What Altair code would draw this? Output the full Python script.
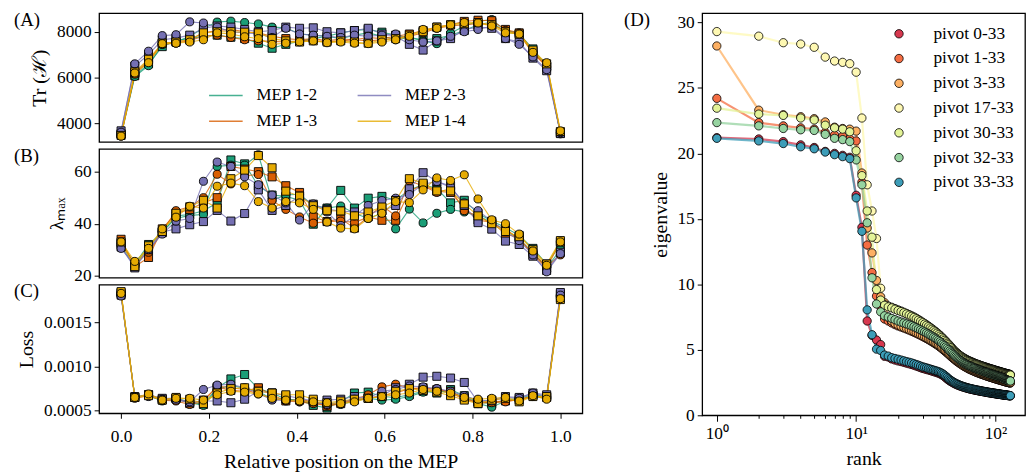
import altair as alt
import pandas as pd

FONT = "Liberation Serif"

# ---------------- panels A-C : four MEPs, two runs each ----------------
positions = [i / 32 for i in range(33)]
legend_order = ["MEP 1-2", "MEP 1-3", "MEP 2-3", "MEP 1-4"]
legend_colors = ["#1b9e77", "#d95f02", "#7570b3", "#e6ab02"]

# (A) Tr(H)
tr_12_sq = [3560, 6080, 6600, 7350, 7620, 7700, 7800, 7850, 7760, 7700, 7500, 7280, 7450, 7580, 7700, 7800, 7950,
            8050, 8100, 7980, 7850, 7750, 7650, 7700, 7850, 8050, 8300, 8420, 7980, 7900, 7250, 6500, 3580]
tr_12_ci = [3470, 6050, 6520, 7450, 7550, 7800, 8150, 8420, 8460, 8400, 8340, 8200, 8170, 7900, 7850, 7800, 7700,
            7850, 7950, 7800, 7650, 7750, 7600, 7480, 7930, 8250, 8450, 8530, 8050, 7950, 7100, 6600, 3550]
tr_13_sq = [3520, 6200, 6750, 7500, 7550, 7650, 7950, 8050, 8100, 8000, 7950, 7800, 7700, 7650, 7700, 7600, 7680,
            7650, 7750, 7700, 7800, 7900, 8050, 8200, 8300, 8450, 8500, 8480, 8100, 7950, 7150, 6450, 3600]
tr_13_ci = [3450, 6150, 6700, 7450, 7500, 7620, 7800, 7850, 7750, 7650, 7600, 7580, 7550, 7600, 7620, 7550, 7600,
            7650, 7600, 7650, 7700, 7800, 7950, 8150, 8250, 8300, 8350, 8300, 8050, 7900, 7050, 6500, 3620]
tr_23_sq = [3680, 6500, 7000, 7650, 7720, 7850, 8150, 8250, 8200, 8100, 8000, 8050, 8200, 8150, 8170, 8000, 7950,
            8050, 8150, 7900, 7800, 7450, 7200, 7600, 7700, 8100, 8200, 8150, 7700, 7550, 6850, 6300, 3560]
tr_23_ci = [3620, 6600, 7150, 7830, 7870, 8430, 8380, 8200, 8000, 7950, 7900, 7750, 8150, 7900, 7850, 7800, 7750,
            7850, 7800, 7850, 7900, 7650, 7550, 7600, 7800, 8000, 8100, 8250, 7700, 7450, 6900, 6350, 3600]
tr_14_sq = [3480, 6250, 6800, 7500, 7550, 7650, 7950, 8000, 8000, 7980, 7950, 7700, 7600, 7550, 7600, 7550, 7600,
            7550, 7500, 7650, 7700, 7850, 8000, 8200, 8300, 8350, 8400, 8300, 8000, 7900, 7200, 6600, 3650]
tr_14_ci = [3450, 6200, 6650, 7480, 7500, 7550, 7650, 7950, 7900, 7780, 7700, 7450, 7500, 7560, 7600, 7520, 7550,
            7500, 7480, 7550, 7650, 7800, 8100, 8150, 8300, 8400, 8380, 8250, 7950, 7900, 7100, 6650, 3680]

# (B) lambda_max
lam_12_sq = [32.5, 24.5, 32, 36.5, 43, 43.5, 45, 48, 64.5, 63, 54.5, 51, 50.5, 49, 39.8, 46, 52.8,
             46, 49.8, 50.5, 49, 53, 55, 53.5, 48, 49, 44, 41, 38.5, 35.5, 30.5, 24.5, 32]
lam_12_ci = [31, 24, 31, 37, 42, 43.2, 43.5, 62, 62.5, 62.5, 66.5, 49, 51, 51.3, 47, 46, 46.8,
             44, 42, 44, 38, 45.6, 40.3, 44, 45.5, 44.5, 43, 40.5, 37.5, 34, 29, 23, 30]
lam_13_sq = [34, 23.5, 27, 38, 44, 45.5, 48, 50, 62, 61, 60, 58, 54.6, 52, 42.6, 40.8, 42,
             38.3, 42.6, 41.3, 41.3, 52.5, 55, 52.5, 52, 46, 41.4, 40.5, 36, 34.5, 28, 23, 33]
lam_13_ci = [32, 24.5, 29, 37, 45, 46.5, 50, 59, 55.3, 58.4, 58.9, 48.9, 45.5, 42.6, 40.2, 40.8, 41,
             40.5, 42.5, 47, 43, 56.5, 54.5, 52, 53.5, 45, 43, 40, 38, 34, 28.5, 23.5, 28]
lam_23_sq = [31, 23, 30, 36.8, 38, 39.6, 40.8, 45.1, 41, 43.9, 53, 45.1, 47, 50.6, 47.5, 45.5, 44.9,
             44.5, 44, 45, 47, 53.4, 59.6, 56.2, 54.5, 47, 40.4, 37.9, 33.3, 32, 27.5, 22, 29]
lam_23_ci = [30.5, 24, 30, 36, 41, 42, 56.3, 63.7, 62, 58, 55, 51, 48, 41.4, 47.6, 44.5, 39.3,
             43, 47, 48.9, 49.8, 51.2, 55.2, 56.2, 54, 48, 45, 41, 37, 33.5, 28, 21.5, 28.5]
lam_14_sq = [33, 23.5, 31.5, 37, 44, 46.5, 49, 46, 57.3, 60.6, 66.2, 61.5, 52.5, 50.6, 46.9, 45, 44.9,
             43, 44.5, 46.4, 48.9, 57.3, 55.6, 52.6, 52.6, 47.6, 43, 40, 37, 35, 30, 24.5, 33.5]
lam_14_ci = [33, 25.5, 30.5, 38, 42.5, 46.7, 46, 54.4, 55.6, 54.6, 48.5, 46, 48.5, 48, 45.5, 40.6, 38.3,
             38, 42, 44, 48.5, 48.1, 53, 57.6, 56.6, 58.8, 49.5, 41.5, 40, 36, 29.5, 24, 33]

# (C) Loss
loss_12_sq = [0.00183, 0.00065, 0.00068, 0.00062, 0.00064, 0.00060, 0.00057, 0.00076, 0.00086, 0.00091, 0.00075,
              0.00070, 0.00063, 0.00062, 0.00056, 0.00053, 0.00060, 0.00070, 0.00071, 0.00066, 0.00065, 0.00068,
              0.00072, 0.00070, 0.00074, 0.00067, 0.00060, 0.00058, 0.00062, 0.00064, 0.00068, 0.00066, 0.00178]
loss_12_ci = [0.00182, 0.00066, 0.00067, 0.00061, 0.00063, 0.00059, 0.00056, 0.00074, 0.00079, 0.00075, 0.00072,
              0.00063, 0.00064, 0.00060, 0.00059, 0.00058, 0.00057, 0.00061, 0.00064, 0.00062, 0.00063, 0.00066,
              0.00071, 0.00073, 0.00070, 0.00066, 0.00058, 0.00054, 0.00061, 0.00063, 0.00066, 0.00064, 0.00180]
loss_13_sq = [0.00184, 0.00065, 0.00068, 0.00063, 0.00064, 0.00058, 0.00062, 0.00077, 0.00073, 0.00072, 0.00076,
              0.00068, 0.00061, 0.00063, 0.00060, 0.00055, 0.00058, 0.00062, 0.00064, 0.00067, 0.00070, 0.00075,
              0.00076, 0.00074, 0.00072, 0.00064, 0.00058, 0.00060, 0.00061, 0.00062, 0.00067, 0.00065, 0.00182]
loss_13_ci = [0.00182, 0.00064, 0.00067, 0.00062, 0.00061, 0.00057, 0.00060, 0.00078, 0.00076, 0.00074, 0.00069,
              0.00064, 0.00061, 0.00060, 0.00058, 0.00056, 0.00059, 0.00063, 0.00068, 0.00077, 0.00080, 0.00076,
              0.00074, 0.00075, 0.00070, 0.00063, 0.00061, 0.00059, 0.00060, 0.00063, 0.00066, 0.00065, 0.00179]
loss_23_sq = [0.00181, 0.00066, 0.00068, 0.00064, 0.00064, 0.00059, 0.00061, 0.00061, 0.00059, 0.00063, 0.00072,
              0.00070, 0.00067, 0.00064, 0.00061, 0.00062, 0.00063, 0.00066, 0.00064, 0.00067, 0.00076, 0.00080,
              0.00088, 0.00089, 0.00087, 0.00082, 0.00060, 0.00062, 0.00066, 0.00065, 0.00070, 0.00068, 0.00184]
loss_23_ci = [0.00180, 0.00066, 0.00066, 0.00063, 0.00062, 0.00060, 0.00074, 0.00079, 0.00080, 0.00076, 0.00070,
              0.00062, 0.00062, 0.00061, 0.00060, 0.00057, 0.00060, 0.00063, 0.00064, 0.00072, 0.00074, 0.00078,
              0.00077, 0.00075, 0.00072, 0.00067, 0.00062, 0.00061, 0.00065, 0.00064, 0.00070, 0.00066, 0.00181]
loss_14_sq = [0.00185, 0.00065, 0.00067, 0.00062, 0.00065, 0.00063, 0.00058, 0.00070, 0.00075, 0.00076, 0.00072,
              0.00070, 0.00068, 0.00068, 0.00063, 0.00059, 0.00061, 0.00063, 0.00064, 0.00066, 0.00072, 0.00075,
              0.00073, 0.00071, 0.00067, 0.00062, 0.00058, 0.00062, 0.00064, 0.00060, 0.00066, 0.00066, 0.00176]
loss_14_ci = [0.00183, 0.00065, 0.00069, 0.00062, 0.00064, 0.00064, 0.00062, 0.00068, 0.00072, 0.00071, 0.00069,
              0.00064, 0.00062, 0.00061, 0.00060, 0.00059, 0.00058, 0.00060, 0.00064, 0.00066, 0.00068, 0.00070,
              0.00074, 0.00072, 0.00070, 0.00065, 0.00063, 0.00064, 0.00065, 0.00061, 0.00067, 0.00063, 0.00177]

runs = [
    ("MEP 1-2", "square", tr_12_sq, lam_12_sq, loss_12_sq),
    ("MEP 1-2", "circle", tr_12_ci, lam_12_ci, loss_12_ci),
    ("MEP 1-3", "square", tr_13_sq, lam_13_sq, loss_13_sq),
    ("MEP 1-3", "circle", tr_13_ci, lam_13_ci, loss_13_ci),
    ("MEP 2-3", "square", tr_23_sq, lam_23_sq, loss_23_sq),
    ("MEP 2-3", "circle", tr_23_ci, lam_23_ci, loss_23_ci),
    ("MEP 1-4", "square", tr_14_sq, lam_14_sq, loss_14_sq),
    ("MEP 1-4", "circle", tr_14_ci, lam_14_ci, loss_14_ci),
]
rows = []
for k, (mep, mk, tr, lam, loss) in enumerate(runs):
    for p, a, b, c in zip(positions, tr, lam, loss):
        rows.append({"pos": p, "trace": a, "lam": b, "loss": c, "mep": mep,
                     "marker": mk, "series": f"{k}"})
df_left = pd.DataFrame(rows)

# ---------------- panel D : eigenvalue spectra ----------------
ranks = list(range(1, 129))
pivot_names = ["pivot 0-33", "pivot 1-33", "pivot 3-33", "pivot 17-33",
               "pivot 30-33", "pivot 32-33", "pivot 33-33"]
pivot_colors = ["#d7384f", "#f46d43", "#fdb063", "#fef8b2", "#e3f397", "#96d3a0", "#3d9db8"]

eig_0 = [21.20, 21.10, 20.90, 20.65, 20.45, 20.15, 20.00, 19.85, 19.70, 16.80,
         14.35, 7.20, 6.10, 5.75, 5.40, 4.50, 4.45, 4.30, 4.22, 4.15,
         4.10, 4.04, 3.98, 3.93, 3.88, 3.82, 3.76, 3.70, 3.64, 3.58,
         3.54, 3.50, 3.46, 3.42, 3.38, 3.34, 3.30, 3.26, 3.22, 3.17,
         3.11, 3.04, 2.96, 2.87, 2.78, 2.70, 2.63, 2.57, 2.51, 2.46,
         2.41, 2.37, 2.33, 2.29, 2.26, 2.23, 2.20, 2.17, 2.15, 2.13,
         2.10, 2.08, 2.06, 2.04, 2.02, 2.00, 1.99, 1.97, 1.96, 1.94,
         1.93, 1.91, 1.90, 1.89, 1.88, 1.86, 1.85, 1.84, 1.83, 1.82,
         1.81, 1.80, 1.79, 1.78, 1.77, 1.76, 1.75, 1.74, 1.73, 1.72,
         1.71, 1.71, 1.70, 1.69, 1.68, 1.67, 1.67, 1.66, 1.65, 1.64,
         1.64, 1.63, 1.62, 1.62, 1.61, 1.60, 1.60, 1.59, 1.58, 1.58,
         1.57, 1.57, 1.56, 1.55, 1.55, 1.54, 1.54, 1.53, 1.53, 1.52,
         1.52, 1.51, 1.51, 1.50, 1.50, 1.49, 1.49, 1.48]
eig_1 = [24.20, 22.35, 22.10, 21.95, 21.85, 21.60, 21.40, 21.30, 21.10, 20.95,
         17.80, 13.00, 10.90, 9.10, 8.30, 7.35, 7.20, 7.05, 6.92, 6.82,
         6.74, 6.66, 6.58, 6.50, 6.42, 6.34, 6.26, 6.18, 6.10, 6.02,
         5.94, 5.86, 5.78, 5.70, 5.62, 5.54, 5.46, 5.38, 5.30, 5.21,
         5.12, 5.03, 4.94, 4.85, 4.76, 4.67, 4.58, 4.49, 4.41, 4.33,
         4.25, 4.18, 4.11, 4.05, 3.99, 3.93, 3.87, 3.82, 3.77, 3.72,
         3.68, 3.64, 3.60, 3.56, 3.52, 3.49, 3.46, 3.43, 3.40, 3.37,
         3.34, 3.31, 3.29, 3.26, 3.24, 3.22, 3.19, 3.17, 3.15, 3.13,
         3.11, 3.09, 3.07, 3.05, 3.03, 3.01, 2.99, 2.98, 2.96, 2.94,
         2.92, 2.91, 2.89, 2.88, 2.86, 2.85, 2.83, 2.82, 2.80, 2.79,
         2.77, 2.76, 2.75, 2.73, 2.72, 2.71, 2.69, 2.68, 2.67, 2.66,
         2.64, 2.63, 2.62, 2.61, 2.60, 2.58, 2.57, 2.56, 2.55, 2.54,
         2.53, 2.52, 2.51, 2.50, 2.49, 2.48, 2.47, 2.46]
eig_3 = [28.20, 23.30, 22.95, 22.80, 22.65, 22.40, 22.00, 21.90, 21.85, 21.70,
         18.50, 14.30, 12.40, 10.30, 9.05, 8.60, 7.50, 7.20, 7.02, 6.90,
         6.80, 6.71, 6.63, 6.55, 6.47, 6.39, 6.31, 6.23, 6.15, 6.07,
         5.99, 5.91, 5.83, 5.75, 5.67, 5.59, 5.51, 5.43, 5.35, 5.26,
         5.17, 5.08, 4.99, 4.90, 4.81, 4.72, 4.63, 4.54, 4.46, 4.38,
         4.30, 4.23, 4.16, 4.10, 4.04, 3.98, 3.92, 3.87, 3.82, 3.77,
         3.73, 3.69, 3.65, 3.61, 3.57, 3.54, 3.51, 3.48, 3.45, 3.42,
         3.39, 3.36, 3.34, 3.31, 3.29, 3.27, 3.24, 3.22, 3.20, 3.18,
         3.16, 3.14, 3.12, 3.10, 3.08, 3.06, 3.04, 3.03, 3.01, 2.99,
         2.97, 2.96, 2.94, 2.93, 2.91, 2.90, 2.88, 2.87, 2.85, 2.84,
         2.82, 2.81, 2.80, 2.78, 2.77, 2.76, 2.74, 2.73, 2.72, 2.71,
         2.69, 2.68, 2.67, 2.66, 2.65, 2.63, 2.62, 2.61, 2.60, 2.59,
         2.58, 2.57, 2.56, 2.55, 2.54, 2.53, 2.52, 2.51]
eig_17 = [29.30, 28.95, 28.45, 28.35, 28.10, 27.35, 27.05, 26.95, 26.85, 26.20,
          22.70, 17.60, 15.60, 13.50, 9.70, 8.45, 8.35, 8.25, 8.15, 8.05,
          7.96, 7.87, 7.78, 7.69, 7.60, 7.51, 7.41, 7.31, 7.21, 7.11,
          7.01, 6.91, 6.81, 6.71, 6.61, 6.51, 6.41, 6.31, 6.21, 6.10,
          5.99, 5.88, 5.77, 5.66, 5.55, 5.44, 5.33, 5.22, 5.11, 5.00,
          4.91, 4.83, 4.75, 4.68, 4.61, 4.55, 4.49, 4.44, 4.39, 4.34,
          4.30, 4.26, 4.22, 4.18, 4.15, 4.12, 4.09, 4.06, 4.03, 4.00,
          3.97, 3.95, 3.92, 3.90, 3.88, 3.86, 3.83, 3.81, 3.79, 3.77,
          3.75, 3.73, 3.71, 3.69, 3.68, 3.66, 3.64, 3.62, 3.61, 3.59,
          3.57, 3.56, 3.54, 3.53, 3.51, 3.50, 3.48, 3.47, 3.45, 3.44,
          3.42, 3.41, 3.40, 3.38, 3.37, 3.36, 3.34, 3.33, 3.32, 3.30,
          3.29, 3.28, 3.27, 3.26, 3.24, 3.23, 3.22, 3.21, 3.20, 3.19,
          3.18, 3.17, 3.16, 3.15, 3.14, 3.13, 3.12, 3.11]
eig_30 = [23.45, 23.00, 22.90, 22.70, 22.55, 22.15, 21.95, 21.85, 21.65, 20.20,
          18.30, 15.60, 13.60, 9.60, 8.80, 8.40, 8.28, 8.20, 8.10, 8.00,
          7.92, 7.83, 7.74, 7.65, 7.56, 7.47, 7.37, 7.27, 7.17, 7.07,
          6.97, 6.87, 6.77, 6.67, 6.57, 6.47, 6.37, 6.27, 6.16, 6.05,
          5.94, 5.83, 5.72, 5.61, 5.50, 5.39, 5.28, 5.17, 5.06, 4.96,
          4.87, 4.79, 4.71, 4.64, 4.57, 4.51, 4.45, 4.40, 4.35, 4.30,
          4.26, 4.22, 4.18, 4.14, 4.11, 4.08, 4.05, 4.02, 3.99, 3.96,
          3.93, 3.91, 3.88, 3.86, 3.84, 3.82, 3.79, 3.77, 3.75, 3.73,
          3.71, 3.69, 3.67, 3.65, 3.64, 3.62, 3.60, 3.58, 3.57, 3.55,
          3.53, 3.52, 3.50, 3.49, 3.47, 3.46, 3.44, 3.43, 3.41, 3.40,
          3.38, 3.37, 3.36, 3.34, 3.33, 3.32, 3.30, 3.29, 3.28, 3.26,
          3.25, 3.24, 3.23, 3.22, 3.20, 3.19, 3.18, 3.17, 3.16, 3.15,
          3.14, 3.13, 3.12, 3.11, 3.10, 3.09, 3.08, 3.07]
eig_32 = [22.35, 22.10, 21.90, 21.80, 21.75, 21.45, 21.15, 21.05, 20.90, 19.50,
          17.60, 14.70, 10.50, 8.50, 7.90, 7.60, 7.50, 7.40, 7.30, 7.20,
          7.12, 7.05, 6.98, 6.91, 6.84, 6.76, 6.68, 6.60, 6.52, 6.44,
          6.36, 6.28, 6.20, 6.12, 6.04, 5.96, 5.88, 5.80, 5.71, 5.62,
          5.52, 5.42, 5.32, 5.22, 5.12, 5.02, 4.92, 4.82, 4.73, 4.64,
          4.55, 4.47, 4.39, 4.32, 4.25, 4.19, 4.13, 4.07, 4.02, 3.97,
          3.93, 3.89, 3.85, 3.81, 3.78, 3.75, 3.72, 3.69, 3.66, 3.63,
          3.60, 3.58, 3.55, 3.53, 3.51, 3.49, 3.46, 3.44, 3.42, 3.40,
          3.38, 3.36, 3.34, 3.32, 3.30, 3.28, 3.26, 3.25, 3.23, 3.21,
          3.19, 3.18, 3.16, 3.15, 3.13, 3.11, 3.10, 3.08, 3.07, 3.05,
          3.04, 3.02, 3.01, 2.99, 2.98, 2.97, 2.95, 2.94, 2.93, 2.91,
          2.89, 2.87, 2.85, 2.83, 2.81, 2.79, 2.77, 2.75, 2.73, 2.71,
          2.70, 2.68, 2.67, 2.66, 2.65, 2.64, 2.63, 2.62]
eig_33 = [21.15, 20.95, 20.75, 20.50, 20.35, 20.10, 19.90, 19.75, 19.60, 16.60,
          14.05, 8.05, 6.15, 5.05, 4.95, 4.60, 4.52, 4.40, 4.34, 4.28,
          4.22, 4.16, 4.10, 4.05, 4.00, 3.94, 3.88, 3.82, 3.76, 3.70,
          3.66, 3.62, 3.57, 3.53, 3.49, 3.45, 3.41, 3.37, 3.33, 3.28,
          3.22, 3.15, 3.07, 2.98, 2.89, 2.80, 2.72, 2.65, 2.59, 2.53,
          2.48, 2.43, 2.39, 2.35, 2.31, 2.28, 2.25, 2.22, 2.19, 2.17,
          2.14, 2.12, 2.10, 2.08, 2.06, 2.04, 2.03, 2.01, 1.99, 1.98,
          1.96, 1.95, 1.94, 1.92, 1.91, 1.90, 1.89, 1.88, 1.86, 1.85,
          1.84, 1.83, 1.82, 1.81, 1.80, 1.79, 1.78, 1.77, 1.76, 1.75,
          1.74, 1.74, 1.73, 1.72, 1.71, 1.70, 1.70, 1.69, 1.68, 1.67,
          1.67, 1.66, 1.65, 1.64, 1.64, 1.63, 1.62, 1.62, 1.61, 1.60,
          1.60, 1.59, 1.58, 1.58, 1.57, 1.57, 1.56, 1.55, 1.55, 1.54,
          1.54, 1.53, 1.53, 1.52, 1.52, 1.51, 1.51, 1.50]

spectra = [eig_0, eig_1, eig_3, eig_17, eig_30, eig_32, eig_33]
rows = []
for name, vals in zip(pivot_names, spectra):
    for r, v in zip(ranks, vals):
        rows.append({"rank": r, "eig": v, "pivot": name, "pivot_line": name})
df_d = pd.DataFrame(rows)

# ---------------- helpers ----------------
def tag_layer(label, dx):
    return alt.Chart(pd.DataFrame({"t": [label]})).mark_text(
        align="left", baseline="top", fontSize=19, font=FONT, color="black"
    ).encode(x=alt.value(dx), y=alt.value(-2), text="t:N")


def left_panel(field, ydom, yvals, yfmt, ytitle, label, bottom, legend):
    xs = alt.Scale(domain=[-0.05, 1.05], nice=False, zero=False)
    if bottom:
        xaxis = alt.Axis(values=[0, 0.2, 0.4, 0.6, 0.8, 1.0], format=".1f",
                         title="Relative position on the MEP", titlePadding=7, labelPadding=9)
    else:
        xaxis = None
    ys = alt.Scale(domain=ydom, nice=False, zero=False)
    yaxis = alt.Axis(values=yvals, format=yfmt, title=ytitle, titlePadding=7)
    base = alt.Chart(df_left)
    cscale = alt.Scale(domain=legend_order, range=legend_colors)
    if legend:
        leg = alt.Legend(orient="none", legendX=110, legendY=65, columns=2, title=None,
                         symbolType="stroke", symbolSize=1150, symbolStrokeWidth=1.6,
                         symbolOpacity=0.8, labelFontSize=17, labelFont=FONT,
                         labelOffset=13, columnPadding=36, rowPadding=-3)
    else:
        leg = None
    lines = base.mark_line(strokeWidth=1.1, opacity=0.8).encode(
        x=alt.X("pos:Q", scale=xs, axis=xaxis),
        y=alt.Y(f"{field}:Q", scale=ys, axis=yaxis),
        color=alt.Color("mep:N", scale=cscale, legend=leg),
        detail="series:N",
    )
    pts = base.mark_point(filled=True, size=66, opacity=1, stroke="black", strokeWidth=0.9).encode(
        x=alt.X("pos:Q", scale=xs, axis=xaxis),
        y=alt.Y(f"{field}:Q", scale=ys, axis=yaxis),
        fill=alt.Fill("mep:N", scale=cscale, legend=None),
        shape=alt.Shape("marker:N", scale=alt.Scale(domain=["square", "circle"], range=["square", "circle"]),
                        legend=None),
    )
    return alt.layer(lines, pts, tag_layer(label, -86)).properties(width=488, height=130)


panel_a = left_panel("trace", [3195, 8805], [4000, 6000, 8000], "d", "Tr (ℋ)", "(A)", False, True)
panel_b = left_panel("lam", [19.25, 68.75], [20, 40, 60], "d", "λₘₐₓ", "(B)", False, False)
panel_c = left_panel("loss", [0.00047, 0.00193], [0.0005, 0.0010, 0.0015], ".4f", "Loss", "(C)", True, False)

left_col = alt.vconcat(panel_a, panel_b, panel_c, spacing=7, bounds="flush").resolve_scale(
    color="independent", fill="independent", shape="independent")

# ---------------- panel D ----------------
xs_d = alt.Scale(type="log", domain=[0.785, 163], nice=False)
ys_d = alt.Scale(domain=[0, 30.7], nice=False, zero=False)
log_ticks = [1, 2, 3, 4, 5, 6, 7, 8, 9, 10, 20, 30, 40, 50, 60, 70, 80, 90, 100]
x_axis_d = alt.Axis(
    values=log_ticks, title="rank", titlePadding=7, labelPadding=3,
    labelExpr="datum.value == 1 ? '10⁰' : datum.value == 10 ? '10¹' : datum.value == 100 ? '10²' : ''",
    tickSize={"condition": {"test": "datum.value == 1 || datum.value == 10 || datum.value == 100", "value": 6},
              "value": 3},
)
y_axis_d = alt.Axis(values=[0, 5, 10, 15, 20, 25, 30], title="eigenvalue", titlePadding=7)

pivot_scale = alt.Scale(domain=pivot_names, range=pivot_colors)
# line colours use the same mapping, listed in reverse so the (hidden) line legend stays separate
line_scale = alt.Scale(domain=pivot_names[::-1], range=pivot_colors[::-1])
base_d = alt.Chart(df_d)

# first layer carries the legend (invisible points), as in panel (A)
legend_d = base_d.mark_point(filled=True, size=72, opacity=0, stroke="black", strokeWidth=0.8).encode(
    x=alt.X("rank:Q", scale=xs_d, axis=x_axis_d),
    y=alt.Y("eig:Q", scale=ys_d, axis=y_axis_d),
    color=alt.Color("pivot:N", scale=pivot_scale,
                    legend=alt.Legend(orient="none", legendX=190, legendY=12, title=None,
                                      symbolType="circle", symbolSize=72, symbolStrokeColor="black",
                                      symbolStrokeWidth=0.8, symbolOpacity=1, labelFontSize=17.5,
                                      labelFont=FONT, labelOffset=26, rowPadding=6)),
)
lines_d = base_d.mark_line(strokeWidth=2.2, opacity=0.75).encode(
    x=alt.X("rank:Q", scale=xs_d, axis=x_axis_d),
    y=alt.Y("eig:Q", scale=ys_d, axis=y_axis_d),
    stroke=alt.Stroke("pivot_line:N", scale=line_scale, legend=None),
)
pts_d = base_d.mark_point(filled=True, size=70, opacity=1, stroke="black", strokeWidth=0.8).encode(
    x=alt.X("rank:Q", scale=xs_d, axis=x_axis_d),
    y=alt.Y("eig:Q", scale=ys_d, axis=y_axis_d),
    fill=alt.Fill("pivot:N", scale=pivot_scale, legend=None),
)
panel_d = alt.layer(legend_d, lines_d, pts_d, tag_layer("(D)", -79)).properties(width=326, height=406)

chart = alt.hconcat(left_col, panel_d, spacing=40).resolve_scale(
    color="independent", fill="independent", shape="independent", stroke="independent"
).properties(
    padding={"left": 5, "top": 0, "right": 0, "bottom": 0}
).configure(
    font=FONT
).configure_view(
    stroke="black", strokeWidth=1.3
).configure_axis(
    labelFont=FONT, titleFont=FONT, labelFontSize=17.5, titleFontSize=20, labelColor="black",
    titleColor="black", tickColor="black", domain=False, grid=False, titleFontWeight="normal",
    tickSize=5, labelPadding=3
).configure_legend(
    labelColor="black", labelFont=FONT, labelFontSize=17.5
)

chart.save("out.html", embed_options={"renderer": "svg", "actions": False})
